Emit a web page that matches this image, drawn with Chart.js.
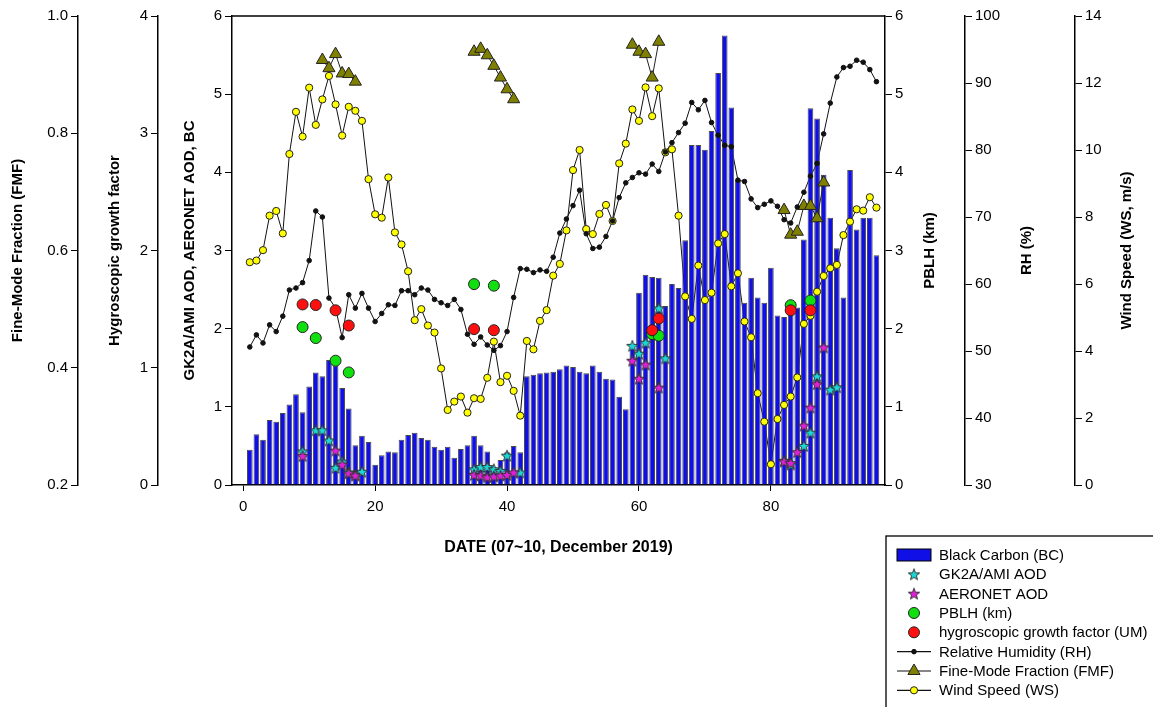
<!DOCTYPE html>
<html>
<head>
<meta charset="utf-8">
<title>BC, AOD, PBLH, RH, FMF, WS</title>
<script src="https://cdn.jsdelivr.net/npm/chart.js@4.4.1/dist/chart.umd.min.js"></script>
<style>
  html, body { margin: 0; padding: 0; background: #fff; }
  #wrap { width: 1153px; height: 707px; }
</style>
</head>
<body>
<div id="wrap"><canvas id="myChart" width="1153" height="707"></canvas></div>
<script>
// hourly series, hour 1..96 (07~10 Dec 2019)
const bcValues = [
  0.45, 0.65, 0.58, 0.83, 0.81, 0.92, 1.03, 1.16, 0.93, 1.26,
  1.44, 1.39, 1.60, 1.53, 1.24, 0.98, 0.51, 0.63, 0.55, 0.26,
  0.38, 0.43, 0.42, 0.58, 0.64, 0.67, 0.60, 0.58, 0.49, 0.45,
  0.49, 0.35, 0.46, 0.51, 0.63, 0.51, 0.43, 0.23, 0.32, 0.42,
  0.50, 0.42, 1.39, 1.41, 1.43, 1.44, 1.45, 1.48, 1.53, 1.51,
  1.45, 1.43, 1.53, 1.45, 1.36, 1.35, 1.13, 0.97, 1.75, 2.46,
  2.69, 2.66, 2.65, 2.29, 2.57, 2.52, 3.13, 4.35, 4.35, 4.29,
  4.53, 5.27, 5.75, 4.83, 3.89, 2.33, 2.65, 2.40, 2.33, 2.78,
  2.17, 2.15, 2.27, 2.27, 3.14, 4.82, 4.69, 3.97, 3.42, 3.03,
  2.40, 4.03, 3.27, 3.42, 3.42, 2.94
];
const rhValues = [
  50.6, 52.4, 51.2, 53.9, 52.9, 55.2, 59.1, 59.4, 60.2, 63.5,
  70.9, 70.0, 57.9, 56.4, 52.0, 58.4, 56.4, 58.6, 56.4, 54.4,
  55.6, 56.9, 56.8, 59.0, 59.0, 58.4, 59.4, 59.1, 57.7, 57.2,
  56.8, 57.7, 56.2, 52.5, 51.0, 52.1, 50.9, 50.1, 50.8, 52.9,
  58.0, 62.3, 62.2, 61.7, 62.1, 61.9, 64.0, 67.6, 69.7, 71.7,
  74.0, 67.5, 65.3, 65.5, 67.1, 69.4, 72.9, 75.1, 75.9, 76.6,
  76.4, 77.9, 76.8, 79.7, 81.1, 82.6, 84.0, 87.1, 86.0, 87.4,
  84.1, 82.2, 80.7, 80.5, 75.5, 75.3, 72.7, 71.4, 71.9, 72.4,
  71.6, 69.6, 69.1, 71.5, 73.7, 76.1, 78.0, 82.4, 87.0, 90.9,
  92.3, 92.5, 93.4, 93.1, 92.0, 90.2
];
const wsValues = [
  6.65, 6.70, 7.01, 8.04, 8.18, 7.51, 9.88, 11.14, 10.40, 11.86,
  10.75, 11.51, 12.21, 11.36, 10.43, 11.29, 11.17, 10.87, 9.13, 8.08,
  7.98, 9.18, 7.54, 7.18, 6.38, 4.92, 5.25, 4.76, 4.55, 3.48,
  2.24, 2.49, 2.64, 2.16, 2.59, 2.57, 3.20, 4.28, 3.07, 3.26,
  2.81, 2.07, 4.30, 4.05, 4.90, 5.22, 6.25, 6.60, 7.60, 9.40,
  10.00, 7.64, 7.49, 8.09, 8.36, 7.88, 9.60, 10.19, 11.21, 10.87,
  11.87, 11.01, 11.84, 9.93, 10.02, 8.04, 5.63, 4.96, 6.55, 5.52,
  5.74, 7.21, 7.49, 5.93, 6.32, 4.88, 4.41, 2.74, 1.89, 0.62,
  1.97, 2.39, 2.64, 3.21, 4.81, 5.05, 5.77, 6.24, 6.47, 6.57,
  7.46, 7.86, 8.23, 8.19, 8.59, 8.28
];

// sparse series (hour, value)
const fmfHours = [12, 13, 14, 15, 16, 17, 35, 36, 37, 38, 39, 40, 41, 59, 60, 61, 62, 63, 82, 83, 84, 85, 86, 87, 88];
const fmfValues = [0.925, 0.911, 0.935, 0.902, 0.901, 0.888, 0.939, 0.944, 0.933, 0.915, 0.895, 0.875, 0.858,
                   0.951, 0.939, 0.935, 0.895, 0.956, 0.669, 0.627, 0.632, 0.676, 0.676, 0.655, 0.716];
const pblhHours = [9, 11, 14, 16, 35, 38, 62, 63, 83, 86];
const pblhValues = [2.02, 1.88, 1.59, 1.44, 2.57, 2.55, 1.93, 1.91, 2.30, 2.36];
const hgfHours = [9, 11, 14, 16, 35, 38, 62, 63, 83, 86];
const hgfValues = [1.54, 1.535, 1.49, 1.36, 1.33, 1.32, 1.32, 1.42, 1.49, 1.49];
const gk2aHours = [9, 11, 12, 13, 14, 15, 16, 17, 18, 35, 36, 37, 38, 39, 40, 42, 59, 60, 61, 63, 64, 82, 83, 85, 86, 87, 89, 90];
const gk2aValues = [0.43, 0.70, 0.70, 0.57, 0.22, 0.30, 0.16, 0.13, 0.17, 0.20, 0.23, 0.23, 0.20, 0.18, 0.375, 0.16,
                    1.78, 1.68, 1.82, 2.26, 1.62, 0.31, 0.26, 0.50, 0.67, 1.39, 1.22, 1.25];
const aeronetHours = [9, 14, 15, 16, 17, 35, 36, 37, 38, 39, 40, 41, 59, 60, 61, 63, 82, 83, 84, 85, 86, 87, 88];
const aeronetValues = [0.37, 0.44, 0.26, 0.15, 0.12, 0.13, 0.12, 0.10, 0.11, 0.12, 0.13, 0.16,
                       1.59, 1.36, 1.54, 1.245, 0.30, 0.28, 0.42, 0.76, 0.99, 1.29, 1.76];

const xTicks = [0, 20, 40, 60, 80];

const FONT = '"Liberation Sans", Arial, sans-serif';
Chart.defaults.font.family = FONT;
Chart.defaults.font.size = 15;
Chart.defaults.color = '#000';

const hourly = vals => vals.map((v, i) => ({ x: i + 1, y: v }));
const sparse = (hours, vals) => hours.map((h, i) => ({ x: h, y: vals[i] }));
// break the line where hours are not consecutive
const withBreaks = (hours, vals) => {
  const out = [];
  hours.forEach((h, i) => {
    if (i > 0 && h - hours[i - 1] > 1) out.push({ x: h - 0.5, y: null });
    out.push({ x: h, y: vals[i] });
  });
  return out;
};

function starImage(fill) {
  const c = document.createElement('canvas');
  c.width = 14; c.height = 14;
  const g = c.getContext('2d');
  g.beginPath();
  for (let i = 0; i < 10; i++) {
    const r = i % 2 ? 2.5 : 6;
    const a = -Math.PI / 2 + i * Math.PI / 5;
    const px = 7 + r * Math.cos(a), py = 7.5 + r * Math.sin(a);
    if (i) g.lineTo(px, py); else g.moveTo(px, py);
  }
  g.closePath();
  g.fillStyle = fill;
  g.fill();
  g.lineWidth = 1;
  g.strokeStyle = '#333';
  g.stroke();
  return c;
}

function yAxis(pos, weight, width, min, max, step, title, fmt) {
  return {
    type: 'linear', position: pos, weight: weight, min: min, max: max,
    ticks: { stepSize: step, padding: 3, callback: fmt || (v => v) },
    grid: { drawOnChartArea: false, drawTicks: true, tickLength: 7, color: '#000' },
    border: { display: true, color: '#000', width: 1.5 },
    title: { display: false, text: title },
    afterFit: s => { s.width = width; }
  };
}

// axis titles drawn rotated the same way on both sides
const axisTitles = {
  id: 'axisTitles',
  afterDraw(chart, args, opts) {
    const ctx = chart.ctx;
    const area = chart.chartArea;
    ctx.save();
    ctx.fillStyle = '#000';
    ctx.font = 'bold 15px ' + FONT;
    ctx.textAlign = 'center';
    ctx.textBaseline = 'middle';
    Object.entries(opts.insets).forEach(([id, inset]) => {
      const s = chart.scales[id];
      const x = s.position === 'left' ? s.left + inset : s.right - inset;
      ctx.save();
      ctx.translate(x, (area.top + area.bottom) / 2);
      ctx.rotate(-Math.PI / 2);
      ctx.fillText(s.options.title.text, 0, 0);
      ctx.restore();
    });
    // top frame line
    ctx.strokeStyle = '#000';
    ctx.lineWidth = 1.5;
    ctx.beginPath();
    ctx.moveTo(area.left, area.top);
    ctx.lineTo(area.right, area.top);
    ctx.stroke();
    ctx.restore();
  }
};

// boxed legend below the right part of the plot
const boxLegend = {
  id: 'boxLegend',
  afterDraw(chart, args, opts) {
    const ctx = chart.ctx;
    ctx.save();
    ctx.strokeStyle = '#000';
    ctx.lineWidth = 1.3;
    ctx.strokeRect(opts.left, opts.top, 400, 300);
    ctx.font = '15px ' + FONT;
    ctx.textBaseline = 'middle';
    ctx.textAlign = 'left';
    const sx = opts.left + 28;
    opts.order.forEach((idx, row) => {
      const ds = chart.data.datasets[idx];
      const y = opts.top + opts.firstRow + row * opts.rowStep;
      if (ds.type === 'bar') {
        ctx.fillStyle = ds.backgroundColor;
        ctx.fillRect(sx - 17, y - 6, 34, 12);
        ctx.strokeStyle = '#000';
        ctx.lineWidth = 1;
        ctx.strokeRect(sx - 17, y - 6, 34, 12);
      } else {
        if (ds.legendLine) {
          ctx.strokeStyle = '#111';
          ctx.lineWidth = 1.2;
          ctx.beginPath();
          ctx.moveTo(sx - 17, y);
          ctx.lineTo(sx + 17, y);
          ctx.stroke();
        }
        ctx.fillStyle = ds.pointBackgroundColor || '#000';
        ctx.strokeStyle = ds.pointBorderColor || '#000';
        ctx.lineWidth = ds.pointBorderWidth || 1;
        Chart.helpers.drawPoint(ctx, {
          pointStyle: ds.pointStyle, rotation: 0,
          radius: ds.pointRadius, borderWidth: ds.pointBorderWidth || 1
        }, sx, y);
      }
      ctx.fillStyle = '#000';
      ctx.fillText(ds.label, opts.left + 53, y + 1);
    });
    ctx.restore();
  }
};

const datasets = [
  { // 0
    type: 'bar', label: 'Black Carbon (BC)', data: hourly(bcValues), yAxisID: 'y',
    backgroundColor: '#1010e6', borderColor: '#4a4a4a', borderWidth: 1,
    barPercentage: 0.86, categoryPercentage: 1, order: 8
  },
  { // 1
    type: 'line', label: 'GK2A/AMI AOD', data: sparse(gk2aHours, gk2aValues), yAxisID: 'y',
    showLine: false, pointStyle: starImage('#1ad8d8'), pointRadius: 6,
    pointBackgroundColor: '#1ad8d8', pointBorderColor: '#333', order: 3
  },
  { // 2
    type: 'line', label: 'AERONET AOD', data: sparse(aeronetHours, aeronetValues), yAxisID: 'y',
    showLine: false, pointStyle: starImage('#e020d8'), pointRadius: 6,
    pointBackgroundColor: '#e020d8', pointBorderColor: '#333', order: 2
  },
  { // 3
    type: 'line', label: 'PBLH (km)', data: sparse(pblhHours, pblhValues), yAxisID: 'yPBLH',
    showLine: false, pointStyle: 'circle', pointRadius: 5.5, pointBorderWidth: 1,
    pointBackgroundColor: '#10e010', pointBorderColor: '#222', order: 1
  },
  { // 4
    type: 'line', label: 'hygroscopic growth factor (UM)', data: sparse(hgfHours, hgfValues), yAxisID: 'yHGF',
    showLine: false, pointStyle: 'circle', pointRadius: 5.5, pointBorderWidth: 1,
    pointBackgroundColor: '#ff1010', pointBorderColor: '#222', order: 0
  },
  { // 5 markers only; connecting line is dataset 9
    type: 'line', label: 'Relative Humidity (RH)', data: hourly(rhValues), yAxisID: 'yRH',
    showLine: false, pointStyle: 'circle', pointRadius: 2.3, pointBorderWidth: 1,
    pointBackgroundColor: '#111', pointBorderColor: '#111', legendLine: true, order: 4
  },
  { // 6
    type: 'line', label: 'Fine-Mode Fraction (FMF)', data: withBreaks(fmfHours, fmfValues), yAxisID: 'yFMF',
    borderColor: '#222', borderWidth: 1, spanGaps: false,
    pointStyle: 'triangle', pointRadius: 7, pointBorderWidth: 1,
    pointBackgroundColor: '#7f7f00', pointBorderColor: '#222', legendLine: true, order: 4
  },
  { // 7 markers only; connecting line is dataset 8
    type: 'line', label: 'Wind Speed (WS)', data: hourly(wsValues), yAxisID: 'yWS',
    showLine: false, pointStyle: 'circle', pointRadius: 3.6, pointBorderWidth: 1,
    pointBackgroundColor: '#ffff00', pointBorderColor: '#222', legendLine: true, order: 4
  },
  { // 8
    type: 'line', data: hourly(wsValues), yAxisID: 'yWS',
    borderColor: '#111', borderWidth: 1, pointRadius: 0, order: 10
  },
  { // 9
    type: 'line', data: hourly(rhValues), yAxisID: 'yRH',
    borderColor: '#111', borderWidth: 1, pointRadius: 0, order: 9
  }
];

new Chart(document.getElementById('myChart'), {
  type: 'bar',
  data: { datasets: datasets },
  plugins: [axisTitles, boxLegend],
  options: {
    responsive: false,
    animation: false,
    events: [],
    layout: { padding: { top: 16, left: 0, right: 0, bottom: 0 } },
    elements: { line: { tension: 0 } },
    plugins: {
      legend: { display: false },
      tooltip: { enabled: false },
      axisTitles: { insets: { yFMF: 18, yHGF: 37, y: 32, yPBLH: 35, yRH: 48, yWS: 26 } },
      boxLegend: { left: 886, top: 536, firstRow: 19, rowStep: 19.33, order: [0, 1, 2, 3, 4, 5, 6, 7] }
    },
    scales: {
      x: {
        type: 'linear', position: 'bottom', min: -1.7, max: 97.3, offset: false,
        afterBuildTicks: s => { s.ticks = xTicks.map(v => ({ value: v })); },
        ticks: { padding: 7, maxRotation: 0 },
        grid: { drawOnChartArea: false, drawTicks: true, tickLength: 6, color: '#000', offset: false },
        border: { display: true, color: '#000', width: 1.5 },
        title: {
          display: true, text: 'DATE (07~10, December 2019)',
          font: { size: 16, weight: 'bold' }, padding: { top: 0, bottom: 150 }
        },
        afterFit: s => { s.height = 222; }
      },
      yFMF: yAxis('left', 3, 78, 0.2, 1.0, 0.2, 'Fine-Mode Fraction (FMF)', v => v.toFixed(1)),
      yHGF: yAxis('left', 2, 80, 0, 4, 1, 'Hygroscopic growth factor'),
      y: yAxis('left', 1, 74, 0, 6, 1, 'GK2A/AMI AOD, AERONET AOD, BC'),
      yPBLH: yAxis('right', 1, 80, 0, 6, 1, 'PBLH (km)'),
      yRH: yAxis('right', 2, 110, 30, 100, 10, 'RH (%)'),
      yWS: yAxis('right', 3, 78, 0, 14, 2, 'Wind Speed (WS, m/s)')
    }
  }
});
</script>
</body>
</html>
